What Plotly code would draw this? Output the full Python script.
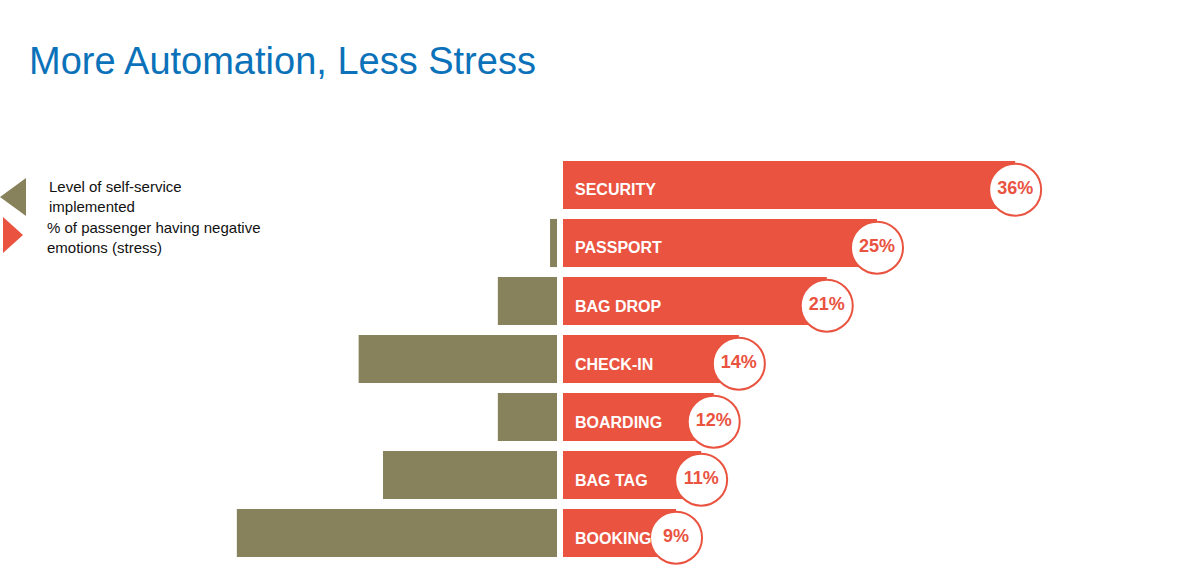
import plotly.graph_objects as go

categories = ["SECURITY", "PASSPORT", "BAG DROP", "CHECK-IN", "BOARDING", "BAG TAG", "BOOKING"]
stress_pct = [36, 25, 21, 14, 12, 11, 9]
self_service = [0, 2, 17, 57, 17, 50, 92]
stress_labels = ["36%", "25%", "21%", "14%", "12%", "11%", "9%"]

title_text = "More Automation, Less Stress"
legend_self = "Level of self-service<br>implemented"
legend_stress = "% of passenger having negative<br>emotions (stress)"

RED = "#E9533F"
OLIVE = "#87825C"
BLUE = "#0B72BA"
FONT = "Liberation Sans, Arial, sans-serif"

W, H = 1200, 584


def px(x):
    return x / W


def py(y):
    return 1 - y / H


ypos = list(range(len(categories)))

fig = go.Figure()

fig.add_trace(go.Bar(
    x=self_service, y=ypos, orientation="h", xaxis="x", yaxis="y",
    marker=dict(color=OLIVE, line=dict(width=0)), width=0.83,
    hoverinfo="skip", showlegend=False,
))
fig.add_trace(go.Bar(
    x=stress_pct, y=ypos, orientation="h", xaxis="x2", yaxis="y",
    marker=dict(color=RED, line=dict(width=0)), width=0.83,
    hoverinfo="skip", showlegend=False,
))
fig.add_trace(go.Scatter(
    x=stress_pct, y=[p + 0.08 for p in ypos], xaxis="x2", yaxis="y",
    mode="markers+text", text=stress_labels, textposition="middle center",
    textfont=dict(family=FONT, size=18, color=RED, weight="bold"),
    marker=dict(size=52, color="white", line=dict(color=RED, width=2)),
    cliponaxis=False, hoverinfo="skip", showlegend=False,
))

annotations = []
for i, c in enumerate(categories):
    annotations.append(dict(
        x=0, y=i, xref="x2", yref="y", text=c, showarrow=False,
        xanchor="left", yanchor="middle", xshift=10, yshift=-5,
        font=dict(family=FONT, size=16, color="white", weight="bold"),
    ))

annotations.append(dict(
    x=px(27), y=py(61), xref="paper", yref="paper", text=title_text,
    showarrow=False, xanchor="left", yanchor="middle",
    font=dict(family=FONT, size=38, color=BLUE),
))
annotations.append(dict(
    x=px(47), y=py(197), xref="paper", yref="paper", text=legend_self,
    showarrow=False, xanchor="left", yanchor="middle", align="left",
    font=dict(family=FONT, size=15, color="#111111"),
))
annotations.append(dict(
    x=px(45), y=py(238), xref="paper", yref="paper", text=legend_stress,
    showarrow=False, xanchor="left", yanchor="middle", align="left",
    font=dict(family=FONT, size=15, color="#111111"),
))

shapes = [
    dict(type="path", xref="paper", yref="paper",
         path=f"M {px(0)},{py(197)} L {px(26)},{py(178)} L {px(26)},{py(216)} Z",
         fillcolor=OLIVE, line=dict(width=0)),
    dict(type="path", xref="paper", yref="paper",
         path=f"M {px(3)},{py(217)} L {px(23)},{py(235)} L {px(3)},{py(253)} Z",
         fillcolor=RED, line=dict(width=0)),
]

axis_hidden = dict(showgrid=False, zeroline=False, showticklabels=False,
                   showline=False, ticks="", fixedrange=True)

fig.update_layout(
    width=W, height=H,
    margin=dict(l=0, r=0, t=0, b=0),
    paper_bgcolor="white", plot_bgcolor="white",
    barmode="overlay",
    hovermode=False,
    xaxis=dict(domain=[0, px(557)], range=[557 / 3.48, 0], **axis_hidden),
    xaxis2=dict(domain=[px(563), 1], range=[0, (1200 - 563) / 12.56], **axis_hidden),
    yaxis=dict(domain=[py(562), py(156)], range=[6.5, -0.5], **axis_hidden),
    annotations=annotations,
    shapes=shapes,
    showlegend=False,
)

fig.write_html(
    "out.html",
    config={"displayModeBar": False, "staticPlot": True},
    post_script="document.body.style.margin='0';document.body.style.overflow='hidden';",
)
